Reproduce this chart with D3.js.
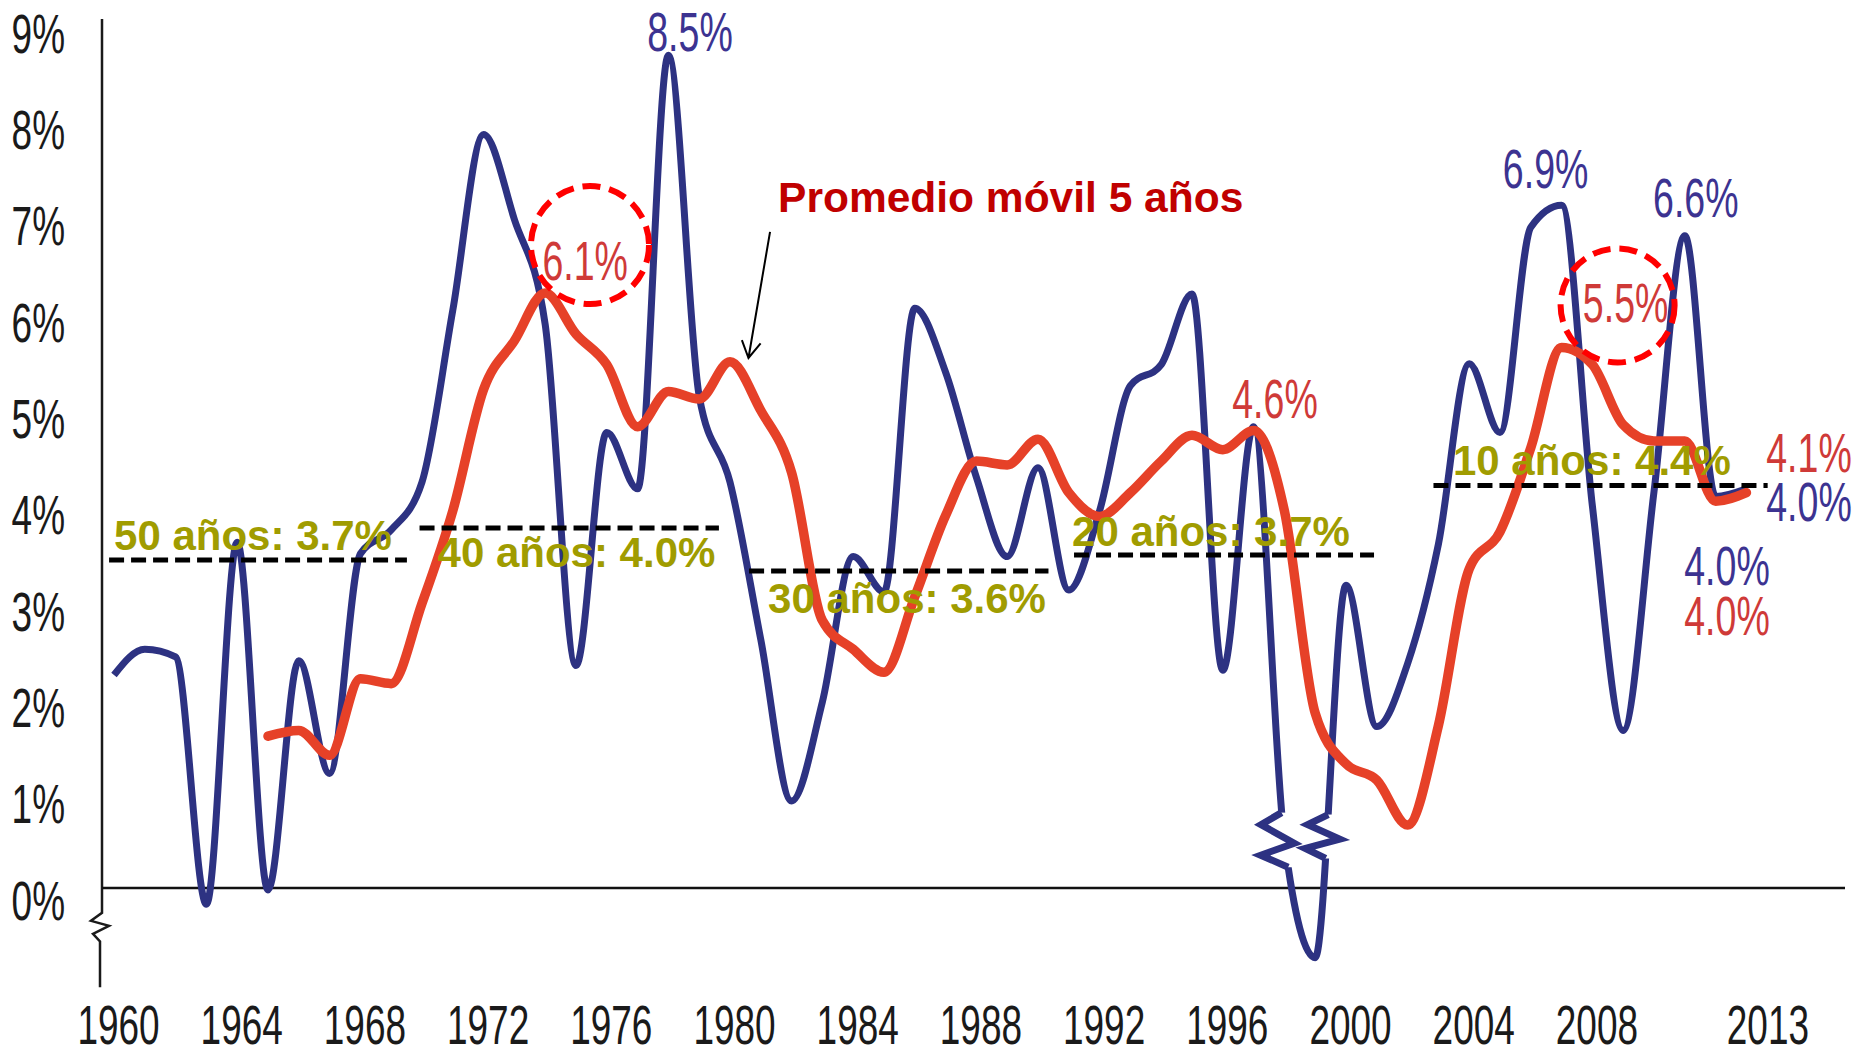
<!DOCTYPE html>
<html>
<head>
<meta charset="utf-8">
<script src="https://cdnjs.cloudflare.com/ajax/libs/d3/7.8.5/d3.min.js"></script>
<style>
  body { margin: 0; background: #fff; }
  svg { display: block; font-family: "Liberation Sans", Arial, sans-serif; }
</style>
</head>
<body>
<svg id="chart" width="1862" height="1056"></svg>
<script>
// ---- data ----
const years = [1960, 1961, 1962, 1963, 1964, 1965, 1966, 1967, 1968, 1969,
               1970, 1971, 1972, 1973, 1974, 1975, 1976, 1977, 1978, 1979,
               1980, 1981, 1982, 1983, 1984, 1985, 1986, 1987, 1988, 1989,
               1990, 1991, 1992, 1993, 1994, 1995, 1996, 1997, 1998, 1999,
               2000, 2001, 2002, 2003, 2004, 2005, 2006, 2007, 2008, 2009,
               2010, 2011, 2012, 2013];

// annual growth (blue)
const growth = [2.23, 2.5, 2.42, -0.17, 3.62, -0.02, 2.38, 1.2, 3.5, 3.75,
                4.25, 6.05, 7.89, 7.0, 5.9, 2.33, 4.77, 4.18, 8.72, 5.15,
                4.25, 2.6, 0.91, 1.95, 3.47, 3.1, 6.07, 5.4, 4.3, 3.47,
                4.4, 3.12, 3.95, 5.26, 5.48, 6.22, 2.28, 4.83, 0.5, -0.73,
                3.17, 1.69, 2.35, 3.6, 5.49, 4.77, 6.92, 7.15, 4.0, 1.65,
                4.15, 6.83, 4.1, 4.18];

// 5-year moving average (red)
const movingAvg = [null, null, null, null, null, 1.59, 1.65, 1.39, 2.19, 2.14,
                   2.98, 3.95, 5.22, 5.73, 6.23, 5.8, 5.48, 4.83, 5.2, 5.12,
                   5.51, 5.0, 4.35, 2.8, 2.5, 2.26, 3.05, 3.9, 4.47, 4.43,
                   4.7, 4.14, 3.89, 4.14, 4.47, 4.74, 4.59, 4.79, 3.95, 1.83,
                   1.3, 1.13, 0.66, 1.7, 3.34, 3.73, 4.61, 5.66, 5.48, 4.85,
                   4.68, 4.68, 4.05, 4.14];

const yTicks = [0, 1, 2, 3, 4, 5, 6, 7, 8, 9];
const xTicks = [1960, 1964, 1968, 1972, 1976, 1980, 1984, 1988, 1992, 1996, 2000, 2004, 2008, 2013];

// period averages (dashed lines)
const avgLabels = ["50 años: 3.7%", "40 años: 4.0%", "30 años: 3.6%", "20 años: 3.7%", "10 años: 4.4%"];
const avgLevels = [3.435, 3.77, 3.32, 3.487, 4.215];
const avgFrom = [1959.84, 1969.92, 1980.62, 1991.17, 2002.84];
const avgTo = [1969.51, 1979.64, 1990.34, 2000.91, 2013.69];

// value call-outs
const calloutText = ["8.5%", "6.1%", "6.9%", "6.6%", "5.5%", "4.6%", "4.1%", "4.0%", "4.0%", "4.0%"];
const calloutSeries = ["growth", "avg", "growth", "growth", "avg", "avg", "avg", "growth", "growth", "avg"];
const calloutYear = [1978, 1974, 2007, 2011, 2007, 1997, 2013, 2013, 2013, 2013];
const circled = ["6.1%", "5.5%"];

const title = "Promedio móvil 5 años";

// ---- layout ----
const svg = d3.select("#chart");
const W = 1862, H = 1056;
svg.append("rect").attr("width", W).attr("height", H).attr("fill", "#fff");

const x = d3.scaleLinear().domain([1960, 2013]).range([114, 1746.4]);
const y = d3.scaleLinear().domain([0, 9]).range([888, 28.5]);

const blueLine = "#2d3282";
const redLine = "#e64128";
const blueText = "#3c3391";
const redText = "#cf3a38";
const olive = "#a09c00";

// text offsets for call-outs (dx, dy from anchor point)
const calloutOffset = [[21.6, -4.5], [40, -13], [-16, -17], [11, -19], [64, -25.5],
                       [21.4, -12.6], [62.6, -20.6], [62.6, 32], [-19.4, 96], [-19.4, 142.4]];
const circleOffset = { "6.1%": [44.8, -48, 59], "5.5%": [56, -42, 57] };
const avgLabelOffset = [[5, -10.4], [18, 39], [19, 42.5], [-2, -9], [19.5, -10.5]];

function narrow(g, px, py, str, size, sx, color, anchor) {
  return g.append("text")
    .attr("transform", `translate(${px},${py}) scale(${sx},1)`)
    .attr("text-anchor", anchor || "middle")
    .style("font-size", size + "px")
    .attr("fill", color)
    .text(str);
}

// ---- y axis ----
const yAxisG = svg.append("g")
  .attr("transform", "translate(102,0)")
  .style("color", "#1a1a1a")
  .call(d3.axisLeft(y).tickValues(yTicks).tickSize(0).tickFormat(d => d + "%"));
yAxisG.select(".domain").remove();
// labels in the original sit a little wider apart than the gridded values
yAxisG.selectAll("text")
  .attr("x", null).attr("dy", null)
  .attr("text-anchor", "end")
  .attr("transform", d => `translate(-37,${31 - d * 0.8}) scale(0.66,1)`)
  .style("font-size", "56px")
  .style("font-family", "'Liberation Sans', Arial, sans-serif");

// axis line with break
const axisTop = y(9.1), breakTop = y(-0.26), breakBot = y(-0.56), axisBot = y(-1.04);
svg.append("path")
  .attr("fill", "none").attr("stroke", "#1a1a1a").attr("stroke-width", 2.5)
  .attr("d", d3.line()([
    [102, axisTop], [102, breakTop],
    [91, breakTop + 8], [109, breakTop + 13], [93, breakTop + 21],
    [100, breakBot], [100, axisBot]
  ]));

// zero line
svg.append("line")
  .attr("x1", 102).attr("x2", 1845)
  .attr("y1", y(0)).attr("y2", y(0))
  .attr("stroke", "#111").attr("stroke-width", 2.5);

// ---- x axis ----
const xAxisG = svg.append("g")
  .attr("transform", "translate(0,1044)")
  .style("color", "#1a1a1a")
  .call(d3.axisBottom(x).tickValues(xTicks).tickSize(0).tickFormat(d3.format("d")));
xAxisG.select(".domain").remove();
xAxisG.selectAll("text")
  .attr("y", null).attr("dy", null)
  .attr("transform", d => `translate(${d === 2013 ? 21 : 4},0) scale(0.66,1)`)
  .style("font-size", "56px")
  .style("font-family", "'Liberation Sans', Arial, sans-serif");

// ---- lines ----
const growthPts = years.map((yr, i) => [yr, growth[i]]);
const avgPts = years.map((yr, i) => [yr, movingAvg[i]]);

const line = d3.line()
  .defined(d => d[1] != null)
  .x(d => x(d[0]))
  .y(d => y(d[1]))
  .curve(d3.curveMonotoneX);

const defs = svg.append("defs");
const mask = defs.append("mask").attr("id", "breakMask").attr("maskUnits", "userSpaceOnUse")
  .attr("x", 0).attr("y", 0).attr("width", W).attr("height", H);
mask.append("rect").attr("width", W).attr("height", H).attr("fill", "#fff");

const bluePath = svg.append("path")
  .datum(growthPts)
  .attr("fill", "none")
  .attr("stroke", blueLine)
  .attr("stroke-width", 7)
  .attr("stroke-linejoin", "round")
  .attr("mask", "url(#breakMask)")
  .attr("d", line);

svg.append("path")
  .datum(avgPts)
  .attr("fill", "none")
  .attr("stroke", redLine)
  .attr("stroke-width", 9.5)
  .attr("stroke-linecap", "round")
  .attr("stroke-linejoin", "round")
  .attr("d", line);

// scale breaks on the blue line (1998-1999)
const breaks = [
  { from: 1997.5, to: 1998.9, top: 0.79, bottom: 0.22, t: [0, 0.22, 0.56, 0.78, 1], dx: [0, -22, 9, -26, 0] },
  { from: 1999.1, to: 1999.95, top: 0.77, bottom: 0.31, t: [0, 0.23, 0.56, 0.77, 1], dx: [0, -20, 13, -21, 0] }
];
const node = bluePath.node();
const total = node.getTotalLength();
const samples = [];
for (let s = 0; s <= total; s += 0.5) samples.push(node.getPointAtLength(s));

function closestAt(x0, x1, yy) {
  let best = null, bd = Infinity;
  samples.forEach(p => {
    if (p.x >= x0 && p.x <= x1 && Math.abs(p.y - yy) < bd) { bd = Math.abs(p.y - yy); best = p; }
  });
  return best;
}

breaks.forEach(b => {
  const x0 = x(b.from), x1 = x(b.to);
  const pTop = closestAt(x0, x1, y(b.top));
  const pBot = closestAt(x0, x1, y(b.bottom));
  mask.append("rect")
    .attr("x", Math.min(pTop.x, pBot.x) - 12)
    .attr("y", pTop.y)
    .attr("width", Math.abs(pTop.x - pBot.x) + 24)
    .attr("height", pBot.y - pTop.y)
    .attr("fill", "#000");
  const zig = b.t.map((t, i) => [
    pTop.x + (pBot.x - pTop.x) * t + b.dx[i],
    pTop.y + (pBot.y - pTop.y) * t
  ]);
  svg.append("path")
    .attr("fill", "none")
    .attr("stroke", blueLine)
    .attr("stroke-width", 7)
    .attr("stroke-linejoin", "miter")
    .attr("d", d3.line()(zig));
});

// ---- period averages ----
avgLabels.forEach((lab, i) => {
  svg.append("line")
    .attr("x1", x(avgFrom[i])).attr("x2", x(avgTo[i]))
    .attr("y1", y(avgLevels[i])).attr("y2", y(avgLevels[i]))
    .attr("stroke", "#000")
    .attr("stroke-width", 5)
    .attr("stroke-dasharray", "15 7");
});
avgLabels.forEach((lab, i) => {
  svg.append("text")
    .attr("x", x(avgFrom[i]) + avgLabelOffset[i][0])
    .attr("y", y(avgLevels[i]) + avgLabelOffset[i][1])
    .attr("fill", olive)
    .style("font-size", "42px")
    .style("font-weight", "bold")
    .text(lab);
});

// ---- call-outs ----
calloutText.forEach((txt, i) => {
  const isBlue = calloutSeries[i] === "growth";
  const idx = years.indexOf(calloutYear[i]);
  const ax = x(calloutYear[i]);
  const ay = y(isBlue ? growth[idx] : movingAvg[idx]);
  if (circled.includes(txt) && circleOffset[txt]) {
    const c = circleOffset[txt];
    svg.append("circle")
      .attr("cx", ax + c[0]).attr("cy", ay + c[1]).attr("r", c[2])
      .attr("fill", "none")
      .attr("stroke", "#ff0000")
      .attr("stroke-width", 6)
      .attr("stroke-dasharray", "18 9");
  }
  narrow(svg, ax + calloutOffset[i][0], ay + calloutOffset[i][1], txt, 56, 0.67,
         isBlue ? blueText : redText);
});

// ---- moving-average title and arrow ----
const arrowFrom = [x(1981.3), y(6.87)];
const arrowTip = [x(1980.6), y(5.55)];
const ang = Math.atan2(arrowFrom[1] - arrowTip[1], arrowFrom[0] - arrowTip[0]);
const headLen = 19, spread = Math.PI / 6;
svg.append("path")
  .attr("fill", "none")
  .attr("stroke", "#000")
  .attr("stroke-width", 2)
  .attr("d",
    d3.line()([arrowFrom, arrowTip]) +
    d3.line()([
      [arrowTip[0] + headLen * Math.cos(ang - spread), arrowTip[1] + headLen * Math.sin(ang - spread)],
      arrowTip,
      [arrowTip[0] + headLen * Math.cos(ang + spread), arrowTip[1] + headLen * Math.sin(ang + spread)]
    ]));

svg.append("text")
  .attr("x", arrowFrom[0] + 8)
  .attr("y", arrowFrom[1] - 20)
  .attr("fill", "#c00000")
  .style("font-size", "42.5px")
  .style("font-weight", "bold")
  .text(title);
</script>
</body>
</html>
